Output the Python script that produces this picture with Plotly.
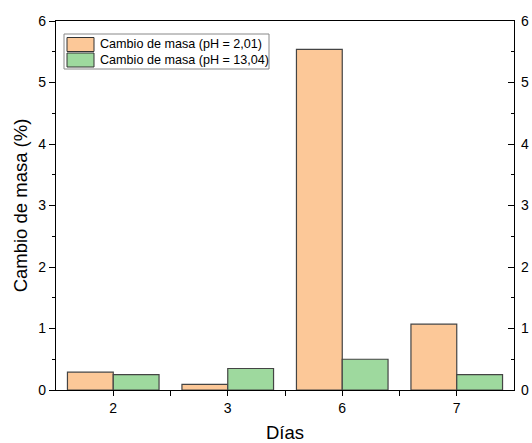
import plotly.graph_objects as go

dias = ["2", "3", "6", "7"]
acido = [0.29, 0.09, 5.54, 1.07]
basico = [0.25, 0.35, 0.50, 0.25]
nombre_acido = "Cambio de masa (pH = 2,01)"
nombre_basico = "Cambio de masa (pH = 13,04)"
yticks = [0, 1, 2, 3, 4, 5, 6]

color_acido = "#FCC898"
color_basico = "#9ED99E"
borde = "#444444"

pos = list(range(len(dias)))
font = "Liberation Sans, Arial, sans-serif"

# plot area in pixels (for placing the hand-drawn legend)
W, H = 532, 443
ML, MR, MT, MB = 56, 18, 21, 53
PW, PH = W - ML - MR, H - MT - MB


def px(x):
    return (x - ML) / PW


def py(y):
    return (H - MB - y) / PH


fig = go.Figure()
fig.add_trace(go.Bar(x=pos, y=acido, name=nombre_acido, showlegend=False,
                     marker=dict(color=color_acido, line=dict(color=borde, width=1.2))))
fig.add_trace(go.Bar(x=pos, y=basico, name=nombre_basico, showlegend=False,
                     marker=dict(color=color_basico, line=dict(color=borde, width=1.2))))
fig.add_trace(go.Scatter(x=[pos[0]], y=[0], yaxis="y2", mode="markers",
                         marker=dict(opacity=0), showlegend=False, hoverinfo="skip"))

# legend box
shapes = [dict(type="rect", xref="paper", yref="paper", layer="above",
               x0=px(64), x1=px(269), y0=py(69), y1=py(34),
               fillcolor="white", line=dict(color="#888888", width=1))]
annotations = []
for (name, col, y0, y1) in [(nombre_acido, color_acido, 37.5, 51.5),
                            (nombre_basico, color_basico, 53, 67)]:
    shapes.append(dict(type="rect", xref="paper", yref="paper", layer="above",
                       x0=px(67), x1=px(94), y0=py(y1), y1=py(y0),
                       fillcolor=col, line=dict(color="#333333", width=1)))
    annotations.append(dict(xref="paper", yref="paper", x=px(97.5), y=py((y0 + y1) / 2),
                            xanchor="left", yanchor="middle", showarrow=False,
                            text=name, font=dict(size=12.6, family=font, color="black")))

fig.update_layout(
    width=W, height=H,
    margin=dict(l=ML, r=MR, t=MT, b=MB, autoexpand=False),
    paper_bgcolor="white", plot_bgcolor="white",
    font=dict(family=font, color="black", size=14),
    barmode="group", bargap=0.2, bargroupgap=0,
    showlegend=False,
    shapes=shapes, annotations=annotations,
    xaxis=dict(range=[-0.5, len(dias) - 0.5], tickvals=pos, ticktext=dias,
               automargin=False,
               showline=True, linecolor="black", linewidth=1.2, mirror=True,
               ticks="outside", ticklen=5, tickcolor="black", tickwidth=1,
               minor=dict(tickvals=[p + 0.5 for p in pos[:-1]], ticks="outside",
                          ticklen=5, tickcolor="black", tickwidth=1),
               showgrid=False, zeroline=False,
               title=dict(text="Días", font=dict(size=18.5), standoff=46)),
    yaxis=dict(range=[0, 6], tickvals=yticks, automargin=False,
               showline=True, linecolor="black", linewidth=1.2,
               ticks="outside", ticklen=6, tickcolor="black", tickwidth=1,
               minor=dict(dtick=0.5, ticks="outside", ticklen=3, tickcolor="black"),
               showgrid=False, zeroline=False,
               title=dict(text="Cambio de masa (%)", font=dict(size=18.5), standoff=5)),
    yaxis2=dict(range=[0, 6], tickvals=yticks, overlaying="y", side="right",
                automargin=False,
                showline=True, linecolor="black", linewidth=1.2,
                ticks="inside", ticklen=6, tickcolor="black", tickwidth=1,
                minor=dict(dtick=0.5, ticks="inside", ticklen=3, tickcolor="black"),
                showgrid=False, zeroline=False, ticklabelstandoff=3),
)

fig.write_html("out.html")
